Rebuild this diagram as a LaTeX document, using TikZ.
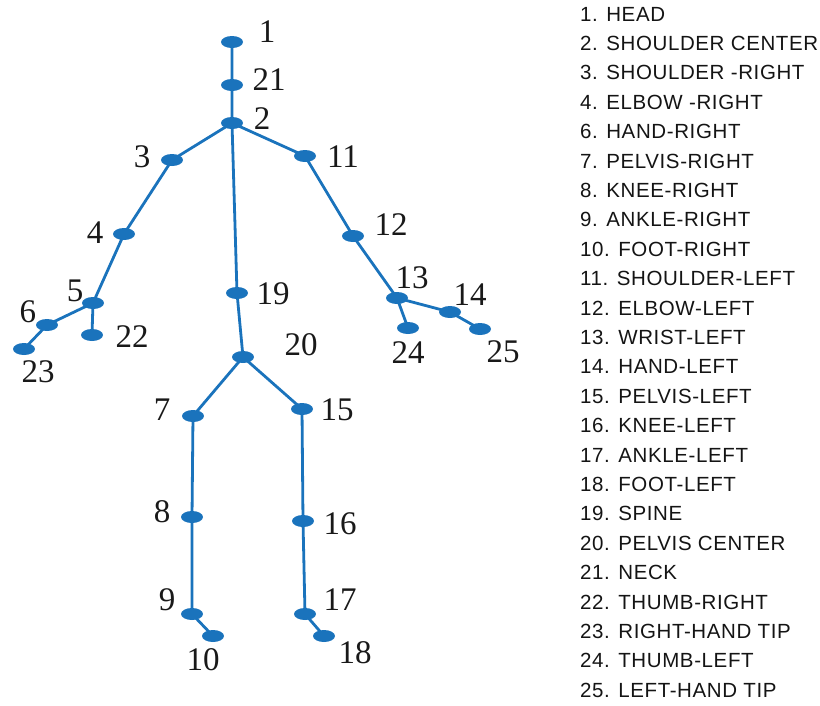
\documentclass[tikz,border=0pt]{standalone}
\usepackage{fontspec}
\setmainfont{Liberation Serif}
\newfontfamily\legendfont[LetterSpace=3]{Liberation Sans}
\usetikzlibrary{shapes.geometric}
\definecolor{jointblue}{RGB}{26,115,188}
\tikzset{
  joint/.style={ellipse, fill=jointblue, draw=none, minimum width=22pt, minimum height=12pt, inner sep=0pt},
  bone/.style={draw=jointblue, line width=2.8pt},
  num/.style={font=\fontsize{33}{33}\selectfont, inner sep=0pt, text=black!90},
  legend/.style={font=\legendfont\fontsize{20.5}{20.5}\selectfont, anchor=west, inner sep=0pt, text=black!92}
}
\begin{document}
\begin{tikzpicture}[x=1pt,y=-1pt]
\useasboundingbox (0,0) rectangle (820,705);
% joints
\coordinate (p1) at (232,42);
\coordinate (p21) at (232,85);
\coordinate (p2) at (232,123);
\coordinate (p3) at (172,160);
\coordinate (p11) at (305,156);
\coordinate (p4) at (124,234);
\coordinate (p12) at (353,236);
\coordinate (p5) at (93,303);
\coordinate (p6) at (47,325);
\coordinate (p22) at (92,335);
\coordinate (p23) at (24,349);
\coordinate (p19) at (237,293);
\coordinate (p13) at (397,298);
\coordinate (p24) at (408,328);
\coordinate (p14) at (450,312);
\coordinate (p25) at (480,329);
\coordinate (p20) at (243,357);
\coordinate (p7) at (193,416);
\coordinate (p15) at (302,409);
\coordinate (p8) at (192,517);
\coordinate (p16) at (303,521);
\coordinate (p9) at (192,614);
\coordinate (p17) at (305,614);
\coordinate (p10) at (213,636);
\coordinate (p18) at (324,636);
% bones
\draw[bone] (p1) -- (p21) -- (p2) -- (p19) -- (p20);
\draw[bone] (p2) -- (p3) -- (p4) -- (p5) -- (p6) -- (p23);
\draw[bone] (p5) -- (p22);
\draw[bone] (p2) -- (p11) -- (p12) -- (p13) -- (p14) -- (p25);
\draw[bone] (p13) -- (p24);
\draw[bone] (p20) -- (p7) -- (p8) -- (p9) -- (p10);
\draw[bone] (p20) -- (p15) -- (p16) -- (p17) -- (p18);
% joint markers
\foreach \j in {1,2,3,4,5,6,7,8,9,10,11,12,13,14,15,16,17,18,19,20,21,22,23,24,25}
  \node[joint] (j\j) at (p\j) {};
% labels
\node[num] (l1) at (267,32) {1};
\node[num] (l21) at (269,80) {21};
\node[num] (l2) at (262,119) {2};
\node[num] (l3) at (142,157) {3};
\node[num] (l11) at (343,157) {11};
\node[num] (l4) at (95,233) {4};
\node[num] (l12) at (391,225) {12};
\node[num] (l5) at (75,291) {5};
\node[num] (l6) at (28,312) {6};
\node[num] (l22) at (132,337) {22};
\node[num] (l23) at (38,372) {23};
\node[num] (l19) at (273,294) {19};
\node[num] (l13) at (412,278) {13};
\node[num] (l14) at (470,295) {14};
\node[num] (l24) at (408,353) {24};
\node[num] (l25) at (503,352) {25};
\node[num] (l20) at (301,345) {20};
\node[num] (l7) at (162,410) {7};
\node[num] (l15) at (337,410) {15};
\node[num] (l8) at (162,512) {8};
\node[num] (l16) at (340,524) {16};
\node[num] (l9) at (167,600) {9};
\node[num] (l17) at (340,600) {17};
\node[num] (l10) at (203,660) {10};
\node[num] (l18) at (355,653) {18};
% legend
\foreach \t [count=\i from 0] in {1. HEAD, 2. SHOULDER CENTER, 3. SHOULDER -RIGHT, 4. ELBOW -RIGHT, 6. HAND-RIGHT, 7. PELVIS-RIGHT, 8. KNEE-RIGHT, 9. ANKLE-RIGHT, 10. FOOT-RIGHT, 11. SHOULDER-LEFT, 12. ELBOW-LEFT, 13. WRIST-LEFT, 14. HAND-LEFT, 15. PELVIS-LEFT, 16. KNEE-LEFT, 17. ANKLE-LEFT, 18. FOOT-LEFT, 19. SPINE, 20. PELVIS CENTER, 21. NECK, 22. THUMB-RIGHT, 23. RIGHT-HAND TIP, 24. THUMB-LEFT, 25. LEFT-HAND TIP}
  \node[legend] (leg\i) at (580,{14+\i*29.4}) {\t};
\end{tikzpicture}
\end{document}
